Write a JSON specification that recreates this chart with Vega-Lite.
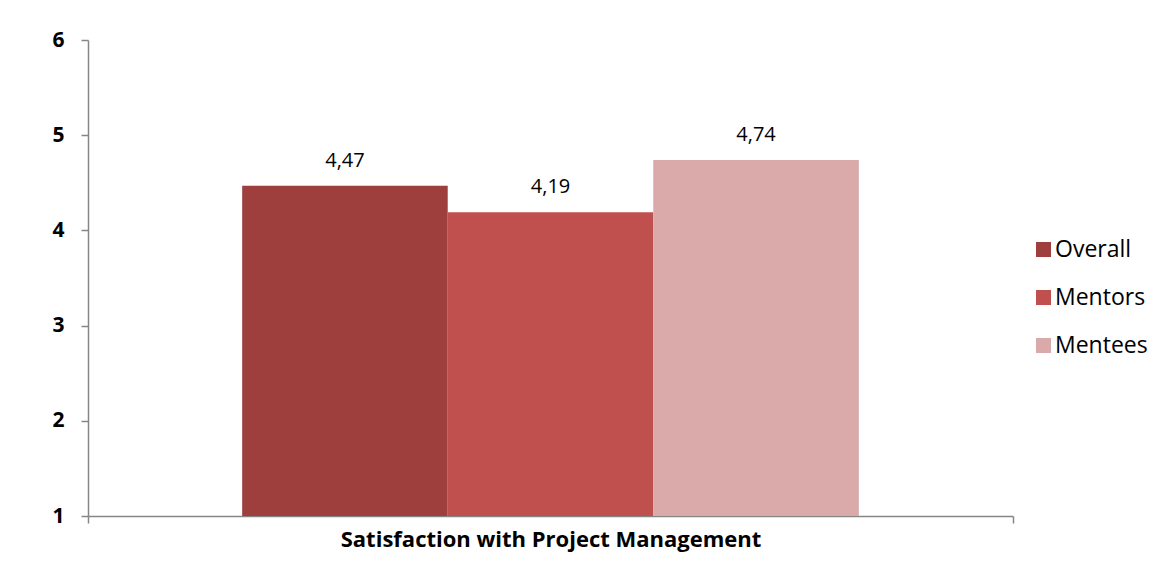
{
  "$schema": "https://vega.github.io/schema/vega-lite/v6.json",
  "width": 925,
  "height": 476,
  "autosize": {"type": "none"},
  "padding": {"left": 88, "top": 40, "right": 155, "bottom": 62},
  "background": "white",
  "config": {
    "view": {"stroke": null},
    "font": "Open Sans",
    "locale": {"number": {"decimal": ",", "thousands": ".", "grouping": [3], "currency": ["", " €"]}}
  },
  "data": {
    "values": [
      {"category": "Satisfaction with Project Management", "series": "Overall", "value": 4.47},
      {"category": "Satisfaction with Project Management", "series": "Mentors", "value": 4.19},
      {"category": "Satisfaction with Project Management", "series": "Mentees", "value": 4.74}
    ]
  },
  "encoding": {
    "x": {
      "field": "category",
      "type": "nominal",
      "scale": {"paddingInner": 0, "paddingOuter": 0},
      "axis": {
        "labels": false,
        "tickBand": "extent",
        "tickSize": 7,
        "domainColor": "#868686",
        "tickColor": "#868686",
        "domainWidth": 1.5,
        "tickWidth": 1.5,
        "title": "Satisfaction with Project Management",
        "titleFont": "Open Sans",
        "titleFontSize": 22,
        "titleFontWeight": "bold",
        "titleColor": "#000000",
        "titlePadding": 6
      }
    },
    "xOffset": {
      "field": "series",
      "type": "nominal",
      "sort": ["Overall", "Mentors", "Mentees"],
      "scale": {"paddingInner": 0, "paddingOuter": 0.75}
    },
    "y": {
      "field": "value",
      "type": "quantitative",
      "scale": {"domain": [1, 6], "nice": false, "zero": false},
      "axis": {
        "values": [1, 2, 3, 4, 5, 6],
        "grid": false,
        "title": null,
        "tickSize": 7,
        "domainColor": "#868686",
        "tickColor": "#868686",
        "domainWidth": 1.5,
        "tickWidth": 1.5,
        "labelFont": "Open Sans",
        "labelFontSize": 21,
        "labelFontWeight": "bold",
        "labelColor": "#000000",
        "labelPadding": 17
      }
    }
  },
  "layer": [
    {
      "mark": {"type": "bar"},
      "encoding": {
        "y2": {"datum": 1},
        "color": {
          "field": "series",
          "type": "nominal",
          "sort": ["Overall", "Mentors", "Mentees"],
          "scale": {"domain": ["Overall", "Mentors", "Mentees"], "range": ["#9E3F3E", "#C0504D", "#DAA9A9"]},
          "legend": {
            "title": null,
            "orient": "none",
            "legendX": 944,
            "legendY": 198,
            "symbolType": "square",
            "symbolSize": 225,
            "symbolStrokeWidth": 0,
            "labelFont": "Open Sans",
            "labelFontSize": 23,
            "labelColor": "#000000",
            "labelOffset": 0,
            "rowPadding": 24
          }
        }
      }
    },
    {
      "mark": {"type": "text", "baseline": "alphabetic", "dy": -19, "font": "Open Sans", "fontSize": 20, "color": "#000000"},
      "encoding": {
        "text": {"field": "value", "type": "quantitative", "format": ".2f"}
      }
    }
  ]
}
